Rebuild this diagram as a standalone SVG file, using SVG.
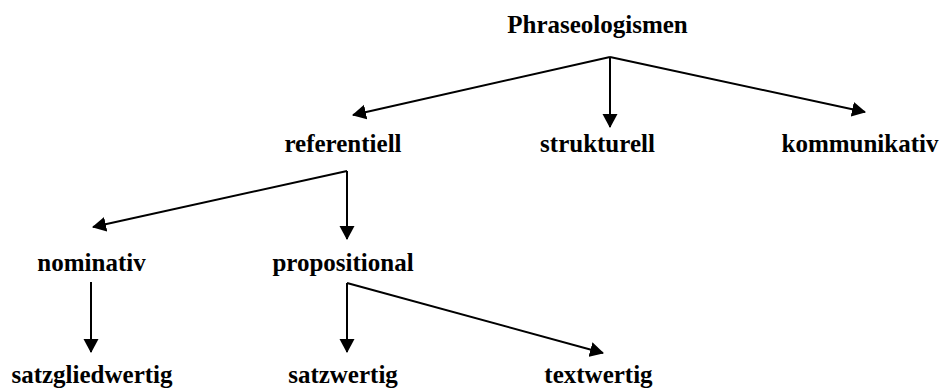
<svg xmlns="http://www.w3.org/2000/svg" width="942" height="392" viewBox="0 0 942 392">
  <style>
    .lbl { font-family: "Liberation Serif", "Times New Roman", serif; font-weight: bold; font-size: 25px; fill: #000; text-anchor: middle; }
    .edge { stroke: #000; stroke-width: 2; fill: none; }
  </style>
  <defs>
    <marker id="arrow" markerUnits="userSpaceOnUse" markerWidth="14" markerHeight="16" refX="13" refY="7.5" orient="auto" viewBox="0 0 14 15">
      <path d="M0,0 L14,7.5 L0,15 Z" fill="#000"/>
    </marker>
  </defs>
  <rect width="942" height="392" fill="#fff"/>

  <g id="connectors">
    <!-- Phraseologismen -> three classes -->
    <path class="edge" d="M610,57 L353,115" marker-end="url(#arrow)"/>
    <path class="edge" d="M610,57 L610,127" marker-end="url(#arrow)"/>
    <path class="edge" d="M610,57 L865,112" marker-end="url(#arrow)"/>
    <!-- referentiell -> nominativ / propositional -->
    <path class="edge" d="M347,171 L93,227" marker-end="url(#arrow)"/>
    <path class="edge" d="M347,171 L347,239" marker-end="url(#arrow)"/>
    <!-- nominativ -> satzgliedwertig -->
    <path class="edge" d="M91,282 L91,352" marker-end="url(#arrow)"/>
    <!-- propositional -> satzwertig / textwertig -->
    <path class="edge" d="M347,283 L347,352" marker-end="url(#arrow)"/>
    <path class="edge" d="M347,283 L603,353" marker-end="url(#arrow)"/>
  </g>

  <g id="phraseologismen"><text class="lbl" x="597.5" y="33">Phraseologismen</text></g>
  <g id="referentiell"><text class="lbl" x="343" y="152">referentiell</text></g>
  <g id="strukturell"><text class="lbl" x="597.5" y="152">strukturell</text></g>
  <g id="kommunikativ"><text class="lbl" x="860" y="152">kommunikativ</text></g>
  <g id="nominativ"><text class="lbl" x="91.5" y="271">nominativ</text></g>
  <g id="propositional"><text class="lbl" x="343" y="271">propositional</text></g>
  <g id="satzgliedwertig"><text class="lbl" x="92" y="383">satzgliedwertig</text></g>
  <g id="satzwertig"><text class="lbl" x="343" y="383">satzwertig</text></g>
  <g id="textwertig"><text class="lbl" x="598.5" y="383">textwertig</text></g>
</svg>
